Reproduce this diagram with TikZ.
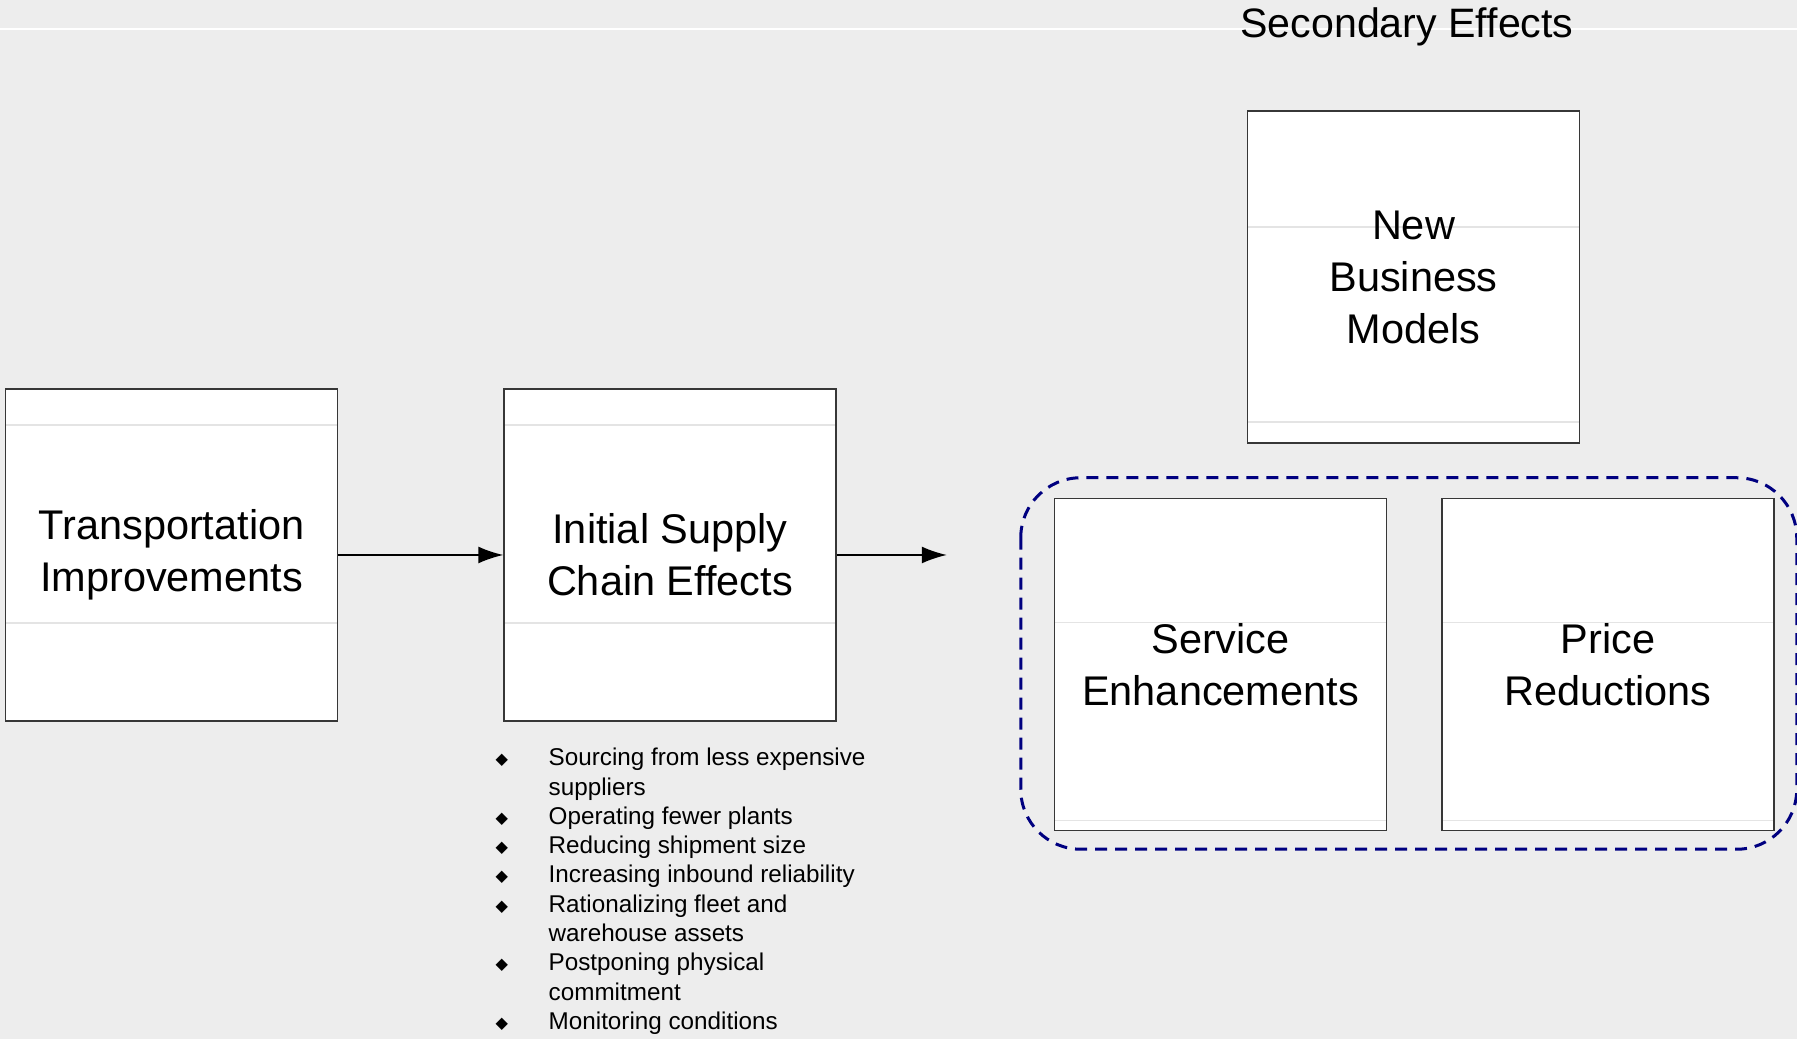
\documentclass[tikz,border=0pt]{standalone}
\usepackage{fontspec}
\setmainfont{Liberation Sans}
\newfontfamily\symfont{DejaVu Sans}
\usetikzlibrary{positioning,arrows.meta}

\definecolor{slidebg}{RGB}{237,237,237}
\definecolor{boxline}{RGB}{55,55,55}
\definecolor{groupline}{RGB}{0,0,128}
\definecolor{rowline}{RGB}{228,228,228}

\newcommand{\bul}{\makebox[5.3mm][l]{\symfont\fontsize{4.6}{5}\selectfont\raisebox{0.3pt}{◆}}}

\begin{document}
\begin{tikzpicture}[> = {Latex[length=2.5mm,width=1.7mm]}]
    \tikzset{
      effect/.style={
        draw=boxline, line width=0.15mm, fill=white, inner sep=0pt,
        minimum width=3.32cm, minimum height=3.32cm, align=center,
        font=\fontsize{11.8}{14.8}\selectfont
      },
      rules/.style 2 args={
        path picture={
          \draw[rowline, line width=0.12mm]
            ([yshift=-#1]path picture bounding box.north west) -- ([yshift=-#1]path picture bounding box.north east)
            ([yshift=-#2]path picture bounding box.north west) -- ([yshift=-#2]path picture bounding box.north east);
        }
      },
      group/.style={
        draw=groupline, line width=0.3mm, dash pattern=on 1.2mm off 0.8mm, rounded corners=0.6cm
      }
    }
    \useasboundingbox (0,0) rectangle (17.97,10.39);
    % background
    \fill[slidebg] (0,0) rectangle (17.97,10.39);
    \draw[white, line width=0.15mm] (0,10.10) -- (17.97,10.10);

    % blocks
    \node (transport) [effect, rules={3.6mm}{23.4mm}] at (1.715,4.84) {Transportation\\Improvements};
    \node (initial) [effect, rules={3.6mm}{23.4mm}, right=1.65cm of transport] {Initial Supply\\Chain Effects};
    \node (models) [effect, rules={11.6mm}{31.1mm}] at (14.135,7.62) {New\\Business\\Models};
    \node (service) [effect, rules={12.4mm}{32.2mm}] at (12.205,3.745) {Service\\Enhancements};
    \node (price) [effect, rules={12.4mm}{32.2mm}, right=0.54cm of service] {Price\\Reductions};
    \node (title) [anchor=base, font=\fontsize{11.7}{14}\selectfont] at (14.07,10.01) {Secondary Effects};

    % group of secondary effects
    \draw[group] ([xshift=-3.3mm,yshift=2mm]service.north west) rectangle ([xshift=2.2mm,yshift=-1.8mm]price.south east);

    % arrows
    \coordinate (onward) at ([xshift=1.1cm]initial.east);
    \draw[->, line width=0.15mm] (transport) -- (initial);
    \draw[->, line width=0.15mm] (initial) -- (onward);

    % list of initial effects
    \node (changes) [anchor=north west, inner sep=0pt, font=\fontsize{6.9}{8.34}\selectfont] at (4.95,2.945) {%
      \begin{tabular}{@{}l@{}l@{}}
        \bul & Sourcing from less expensive\\
             & suppliers\\
        \bul & Operating fewer plants\\
        \bul & Reducing shipment size\\
        \bul & Increasing inbound reliability\\
        \bul & Rationalizing fleet and\\
             & warehouse assets\\
        \bul & Postponing physical\\
             & commitment\\
        \bul & Monitoring conditions
      \end{tabular}};
\end{tikzpicture}
\end{document}
